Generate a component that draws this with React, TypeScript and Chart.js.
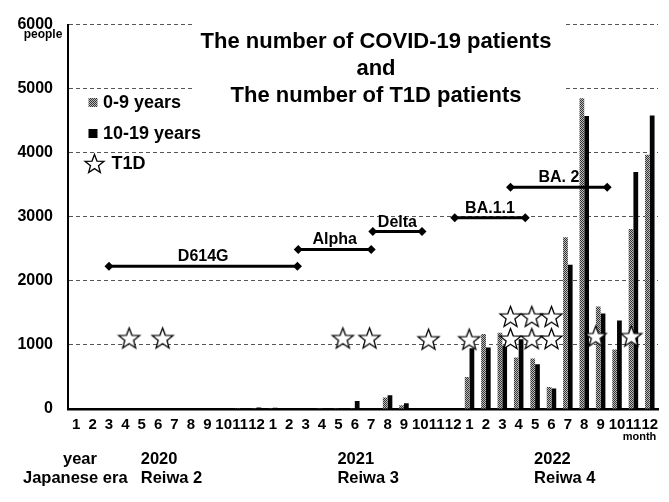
import React, { useEffect, useRef } from 'react';
import { Chart, registerables } from 'chart.js';

Chart.register(...registerables);

// ---------------- data ----------------
const monthLabels = [
  '1', '2', '3', '4', '5', '6', '7', '8', '9', '10', '11', '12',
  '1', '2', '3', '4', '5', '6', '7', '8', '9', '10', '11', '12',
  '1', '2', '3', '4', '5', '6', '7', '8', '9', '10', '11', '12',
];

const age0to9 = [
  0, 0, 0, 0, 0, 0, 0, 0, 0, 0, 5, 10,
  5, 0, 0, 3, 5, 10, 8, 180, 60, 0, 0, 0,
  500, 1170, 1190, 805, 790, 343, 2680, 4850, 1600, 930, 2810, 3970,
];

const age10to19 = [
  0, 0, 0, 0, 0, 0, 0, 0, 0, 0, 8, 22,
  20, 0, 0, 5, 8, 123, 10, 215, 88, 0, 0, 0,
  950, 960, 990, 1090, 700, 320, 2250, 4575, 1490, 1380, 3700, 4580,
];

// T1D markers (month index position, level)
const t1dX = [3.23, 5.27, 16.27, 17.9, 21.5, 23.98, 26.5, 27.8, 29.0, 26.5, 27.8, 29.0, 31.7, 33.87];
const t1dY = [1110, 1110, 1110, 1110, 1090, 1090, 1100, 1100, 1100, 1446, 1446, 1446, 1140, 1140];

// Variant periods (month index positions)
const variantNames = ['D614G', 'Alpha', 'Delta', 'BA.1.1', 'BA. 2'];
const variantStart = [2.0, 13.55, 18.1, 23.1, 26.5];
const variantEnd = [13.5, 18.0, 21.1, 27.4, 32.4];
const variantLevel = [2230, 2490, 2770, 2985, 3460];

const yTicks = [0, 1000, 2000, 3000, 4000, 5000, 6000];

const yearLabels = ['2020', '2021', '2022'];
const eraLabels = ['Reiwa 2', 'Reiwa 3', 'Reiwa 4'];
const yearLabelIndex = [4, 16, 28];

const titleLines = ['The number of COVID-19 patients', 'and', 'The number of T1D patients'];

// ---------------- style / layout ----------------
const FONT = '"Liberation Sans", Arial, Helvetica, sans-serif';
const W = 669;
const H = 502;

function makeGrayPattern(): CanvasPattern | string {
  const c = document.createElement('canvas');
  c.width = 2;
  c.height = 2;
  const g = c.getContext('2d');
  if (!g) return '#888';
  g.fillStyle = '#bdbdbd';
  g.fillRect(0, 0, 2, 2);
  g.fillStyle = '#333333';
  g.fillRect(0, 0, 1, 1);
  g.fillRect(1, 1, 1, 1);
  return g.createPattern(c, 'repeat') || '#888';
}

function makeStar(outer: number, lw: number): HTMLCanvasElement {
  const inner = outer * 0.42;
  const size = Math.ceil(outer * 2 + lw * 2 + 2);
  const c = document.createElement('canvas');
  c.width = size;
  c.height = size;
  const g = c.getContext('2d');
  if (!g) return c;
  const cx = size / 2;
  const cy = size / 2 + outer * 0.095;
  g.beginPath();
  for (let i = 0; i < 10; i++) {
    const r = i % 2 === 0 ? outer : inner;
    const a = -Math.PI / 2 + (i * Math.PI) / 5;
    const px = cx + r * Math.cos(a);
    const py = cy + r * Math.sin(a);
    if (i === 0) g.moveTo(px, py);
    else g.lineTo(px, py);
  }
  g.closePath();
  g.fillStyle = '#ffffff';
  g.fill();
  g.lineWidth = lw;
  g.lineJoin = 'miter';
  g.strokeStyle = '#000000';
  g.stroke();
  return c;
}

export default function App() {
  const canvasRef = useRef<HTMLCanvasElement | null>(null);

  useEffect(() => {
    const canvas = canvasRef.current;
    if (!canvas) return;

    const gray = makeGrayPattern();
    const star = makeStar(11, 1.3);
    const legendStar = makeStar(10, 1.3);

    const overlay = {
      id: 'overlay',
      beforeDatasetsDraw(chart: any) {
        const ctx = chart.ctx as CanvasRenderingContext2D;
        ctx.save();
        // white title box covering grid lines
        ctx.fillStyle = '#ffffff';
        ctx.fillRect(195, 24, 368, 90);
        ctx.fillStyle = '#000';
        ctx.font = `bold 22px ${FONT}`;
        ctx.textAlign = 'center';
        ctx.textBaseline = 'alphabetic';
        titleLines.forEach((t, i) => {
          ctx.fillText(t, 376, 48.3 + i * 26.7);
        });
        ctx.restore();
      },
      afterDatasetsDraw(chart: any) {
        const ctx = chart.ctx as CanvasRenderingContext2D;
        const x = chart.scales.x;
        const y = chart.scales.y;
        ctx.save();
        ctx.fillStyle = '#000';
        // variant labels
        ctx.font = `bold 16px ${FONT}`;
        ctx.textAlign = 'center';
        ctx.textBaseline = 'alphabetic';
        variantNames.forEach((name, i) => {
          const px = x.getPixelForValue((variantStart[i] + variantEnd[i]) / 2);
          const py = y.getPixelForValue(variantLevel[i]) - 5;
          ctx.fillText(name, px, py);
        });
        // legend
        const ds = chart.data.datasets;
        ctx.textAlign = 'left';
        ctx.textBaseline = 'middle';
        ctx.font = `bold 18px ${FONT}`;
        ctx.fillStyle = gray as any;
        ctx.fillRect(88.5, 98, 9, 9);
        ctx.fillStyle = '#000';
        ctx.fillText(ds[0].label, 103, 102.8);
        ctx.fillRect(88.5, 129, 9, 9);
        ctx.fillText(ds[1].label, 103, 133.8);
        ctx.drawImage(legendStar, 94.5 - legendStar.width / 2, 163.5 - legendStar.height / 2);
        ctx.fillText(ds[2].label, 111.5, 164);
        ctx.restore();
      },
      afterDraw(chart: any) {
        const ctx = chart.ctx as CanvasRenderingContext2D;
        const x = chart.scales.x;
        ctx.save();
        ctx.fillStyle = '#000';
        ctx.textBaseline = 'middle';
        ctx.textAlign = 'center';
        ctx.font = `bold 12px ${FONT}`;
        ctx.fillText('people', 43, 35);
        ctx.font = `bold 11px ${FONT}`;
        ctx.fillText('month', 639.5, 437);
        ctx.textAlign = 'left';
        ctx.textBaseline = 'alphabetic';
        ctx.font = `bold 16.5px ${FONT}`;
        ctx.fillText('year', 63, 463.5);
        ctx.fillText('Japanese era', 23, 483);
        yearLabels.forEach((t, i) => {
          const px = x.getPixelForValue(yearLabelIndex[i]) - 1;
          ctx.fillText(t, px, 463.5);
          ctx.fillText(eraLabels[i], px, 483);
        });
        ctx.restore();
      },
    };

    const variantDatasets = variantNames.map((name, i) => ({
      type: 'line' as const,
      label: name,
      data: [
        { x: variantStart[i], y: variantLevel[i] },
        { x: variantEnd[i], y: variantLevel[i] },
      ],
      borderColor: '#000',
      borderWidth: 3,
      pointStyle: 'rectRot' as const,
      pointRadius: 4.5,
      pointBackgroundColor: '#000',
      pointBorderColor: '#000',
      pointBorderWidth: 0,
      fill: false,
      order: 1,
    }));

    const chart = new Chart(canvas, {
      type: 'bar',
      data: {
        datasets: [
          {
            type: 'bar' as const,
            label: '0-9 years',
            data: age0to9.map((v, i) => ({ x: i, y: v })),
            backgroundColor: gray as any,
            borderWidth: 0,
            order: 2,
          },
          {
            type: 'bar' as const,
            label: '10-19 years',
            data: age10to19.map((v, i) => ({ x: i, y: v })),
            backgroundColor: '#050505',
            borderWidth: 0,
            order: 2,
          },
          {
            type: 'scatter' as const,
            label: 'T1D',
            data: t1dX.map((v, i) => ({ x: v, y: t1dY[i] })),
            pointStyle: star as any,
            pointRadius: 10,
            showLine: false,
            order: 0,
          } as any,
          ...variantDatasets,
        ],
      },
      options: {
        responsive: false,
        animation: false,
        devicePixelRatio: 1,
        layout: { padding: { left: 0, right: 10, top: 19, bottom: 0 } },
        datasets: {
          bar: { categoryPercentage: 0.58, barPercentage: 1.0 },
        },
        plugins: {
          legend: { display: false },
          tooltip: { enabled: false },
          title: { display: false },
        },
        scales: {
          x: {
            type: 'linear',
            position: 'bottom',
            min: -0.5,
            max: 35.5,
            offset: false,
            afterBuildTicks: (s: any) => {
              s.ticks = monthLabels.map((_, i) => ({ value: i }));
            },
            grid: { display: false, drawTicks: false, offset: false },
            border: { display: true, color: '#000', width: 2.5 },
            ticks: {
              color: '#000',
              font: { family: FONT, size: 15, weight: 'bold' },
              padding: 7,
              autoSkip: false,
              maxRotation: 0,
              minRotation: 0,
              callback: (v: any) => monthLabels[Math.round(Number(v))] ?? '',
            },
            afterFit: (s: any) => {
              s.height = 93;
            },
          },
          y: {
            type: 'linear',
            position: 'left',
            min: 0,
            max: 6000,
            afterBuildTicks: (s: any) => {
              s.ticks = yTicks.map((v) => ({ value: v }));
            },
            grid: { color: '#555', lineWidth: 1, drawTicks: false },
            border: { display: true, color: '#000', width: 2, dash: [4, 3] },
            ticks: {
              color: '#000',
              font: { family: FONT, size: 16, weight: 'bold' },
              padding: 15,
              callback: (v: any) => String(v),
            },
            afterFit: (s: any) => {
              s.width = 68;
            },
          },
        },
      } as any,
      plugins: [overlay],
    });

    return () => {
      chart.destroy();
    };
  }, []);

  return (
    <div style={{ position: 'absolute', left: 0, top: 0, width: W, height: H, background: '#fff' }}>
      <canvas ref={canvasRef} width={W} height={H} style={{ display: 'block' }} />
    </div>
  );
}
